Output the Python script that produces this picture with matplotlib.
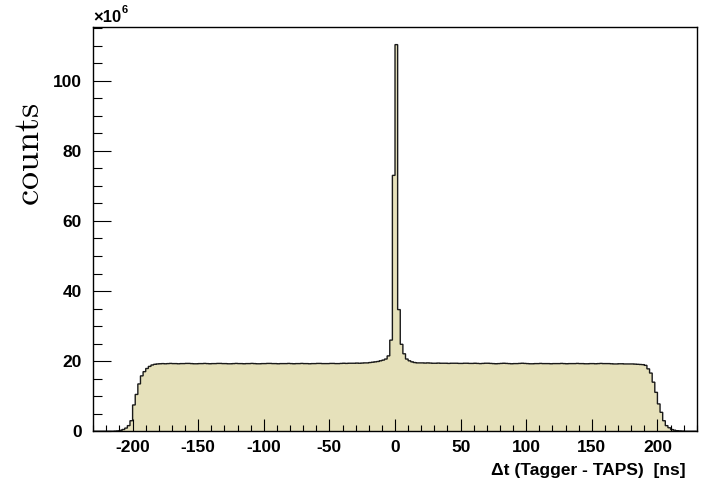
import numpy as np
import matplotlib
matplotlib.use("Agg")
import matplotlib.pyplot as plt
from matplotlib.ticker import MultipleLocator

# counts per 2 ns bin, in units of 1e6, bins from -230 ns to 230 ns
bin_edges = np.arange(-230, 232, 2)

# -230 .. -184
left_edge = [0, 0, 0, 0, 0, 0, 0, 0,
             0.05, 0.1, 0.25, 0.5, 0.9, 1.6, 3.0, 7.5,
             10.5, 13.5, 15.8, 17.0, 17.9, 18.5, 18.9, 19.1]

# -182 .. -26
plateau_left = [19.2, 19.25, 19.3, 19.25, 19.3, 19.35, 19.3, 19.3, 19.25, 19.3,
                19.3, 19.35, 19.35, 19.3, 19.25, 19.25, 19.3, 19.3, 19.35, 19.3,
                19.25, 19.3, 19.3, 19.35, 19.35, 19.3, 19.3, 19.25, 19.25, 19.3,
                19.35, 19.3, 19.3, 19.25, 19.3, 19.3, 19.35, 19.3, 19.25, 19.25,
                19.3, 19.3, 19.35, 19.35, 19.3, 19.3, 19.25, 19.3, 19.3, 19.3,
                19.35, 19.3, 19.25, 19.3, 19.3, 19.35, 19.3, 19.3, 19.25, 19.3,
                19.3, 19.35, 19.35, 19.3, 19.3, 19.3, 19.35, 19.35, 19.3, 19.3,
                19.35, 19.4, 19.35, 19.4, 19.4, 19.4, 19.45, 19.4, 19.45]

# -24 .. 18
peak = [19.5, 19.5, 19.6, 19.7, 19.8, 19.9, 20.1, 20.3, 20.6, 21.5,
        26.0, 73.0, 110.3, 34.7, 24.8, 22.1, 20.6, 20.1, 19.8, 19.6,
        19.5, 19.5]

# 20 .. 188
plateau_right = [19.5, 19.45, 19.5, 19.45, 19.4, 19.4, 19.45, 19.4, 19.4, 19.4,
                 19.35, 19.4, 19.4, 19.4, 19.35, 19.35, 19.4, 19.4, 19.35, 19.35,
                 19.4, 19.35, 19.3, 19.35, 19.4, 19.4, 19.35, 19.3, 19.25, 19.3,
                 19.35, 19.4, 19.35, 19.3, 19.25, 19.3, 19.3, 19.35, 19.4, 19.35,
                 19.3, 19.25, 19.25, 19.3, 19.3, 19.35, 19.3, 19.3, 19.3, 19.25,
                 19.3, 19.3, 19.3, 19.35, 19.3, 19.25, 19.3, 19.3, 19.3, 19.35,
                 19.3, 19.3, 19.25, 19.25, 19.3, 19.3, 19.25, 19.3, 19.35, 19.3,
                 19.3, 19.3, 19.25, 19.2, 19.2, 19.25, 19.25, 19.2, 19.2, 19.2,
                 19.2, 19.15, 19.1, 19.05, 19.0]

# 190 .. 228
right_edge = [18.8, 17.8, 16.6, 14.0, 11.1, 7.8, 5.4, 3.0, 1.6, 1.0,
              0.5, 0.3, 0.15, 0.1, 0.05, 0, 0, 0, 0, 0]

counts = np.array(left_edge + plateau_left + peak + plateau_right + right_edge)

fill_color = '#e6e1bb'
font = 'Liberation Sans'
plt.rcParams['axes.unicode_minus'] = False
plt.rcParams['mathtext.fontset'] = 'cm'

fig = plt.figure(figsize=(7.01, 4.84), dpi=100)
ax = fig.add_axes([0.133, 0.109, 0.861, 0.835])

ax.stairs(counts, bin_edges, fill=True, color=fill_color)
outline = ax.stairs(counts, bin_edges, color='#1a1a1a', linewidth=1.0)
outline.set_snap(False)

ax.set_xlim(-230, 230)
ax.set_ylim(0, 115.3)

ax.xaxis.set_major_locator(MultipleLocator(50))
ax.xaxis.set_minor_locator(MultipleLocator(10))
ax.yaxis.set_major_locator(MultipleLocator(20))
ax.yaxis.set_minor_locator(MultipleLocator(5))

ax.tick_params(axis='both', which='both', direction='in', color='black')
ax.tick_params(axis='x', which='major', length=8.6, width=0.8, pad=6)
ax.tick_params(axis='x', which='minor', length=4.3, width=0.8)
ax.tick_params(axis='y', which='major', length=13, width=0.8, pad=8)
ax.tick_params(axis='y', which='minor', length=6.5, width=0.8)

for lab in ax.get_xticklabels() + ax.get_yticklabels():
    lab.set_fontfamily(font)
    lab.set_fontweight('bold')
    lab.set_fontsize(12.5)

for s in ax.spines.values():
    s.set_linewidth(1.0)
    s.set_color('black')

ax.set_xlabel('\u0394t (Tagger - TAPS)  [ns]', fontfamily=font, fontweight='bold',
              fontsize=12.5, x=0.982, ha='right', labelpad=6)

fig.text(0.041, 0.68, r'$\mathrm{counts}$', rotation=90, fontsize=26,
         ha='center', va='center')

ax.text(0.0, 1.005, '\u00d710', transform=ax.transAxes, fontfamily=font,
        fontweight='bold', fontsize=12, ha='left', va='bottom')
ax.annotate('6', xy=(0.0, 1.005), xycoords='axes fraction', xytext=(20.5, 7.5),
            textcoords='offset points', fontfamily=font, fontweight='bold',
            fontsize=8, ha='left', va='bottom')

fig.savefig('out.png', dpi=100)
